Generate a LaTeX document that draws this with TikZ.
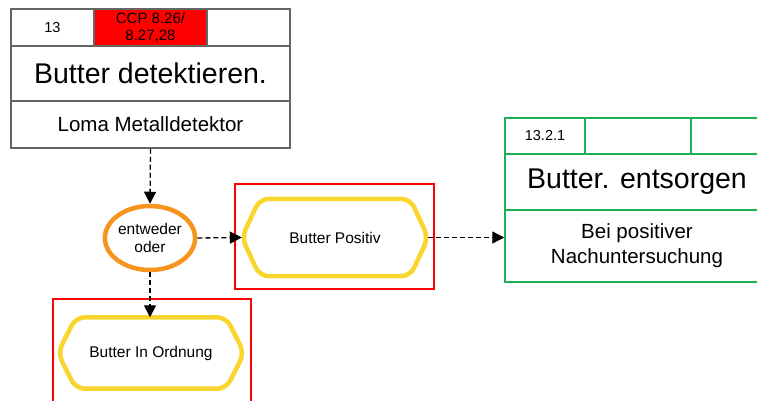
\documentclass[tikz,border=0pt]{standalone}
\usepackage{fontspec}
\setmainfont{Liberation Sans}
\usetikzlibrary{arrows.meta,shapes.geometric}
\definecolor{boxgray}{HTML}{666666}
\definecolor{ccpred}{HTML}{FF0000}
\definecolor{orgorange}{HTML}{F7941D}
\definecolor{hexyellow}{HTML}{F9D52E}
\definecolor{grn}{HTML}{1DB055}
\begin{document}
\begin{tikzpicture}[x=1pt,y=-1pt,
  cell/.style={draw=boxgray,line width=1.5pt,inner sep=0pt,align=center,text=black},
  gcell/.style={draw=grn,line width=1.5pt,inner sep=0pt,align=center,text=black},
  redbox/.style={draw=ccpred,line width=1.5pt,inner sep=0pt},
  hexnode/.style={inner sep=0pt,align=center,minimum width=186pt,font=\fontsize{15.5}{18}\selectfont},
  hexline/.style={draw=hexyellow,line width=4.5pt,rounded corners=9pt,fill=white},
  flow/.style={dash pattern=on 5pt off 3pt,line width=1.3pt,-{Triangle[length=12pt,width=12pt]}},
  small/.style={font=\fontsize{14.5}{16.5}\selectfont},
  title/.style={font=\fontsize{28.5}{34}\selectfont},
  sub/.style={font=\fontsize{20.5}{25}\selectfont}]
\clip (0,0) rectangle (757,401);
\fill[white] (0,0) rectangle (757,401);

% top-left activity box
\node[cell,small,minimum width=83pt,minimum height=37pt] (a1) at (52.5,27.5) {13};
\node[cell,small,fill=ccpred,minimum width=113pt,minimum height=37pt,font=\fontsize{15}{16.5}\selectfont] (a2) at (150.5,27.5) {CCP 8.26/\\8.27,28};
\node[cell,minimum width=83pt,minimum height=37pt] (a3) at (248.5,27.5) {};
\node[cell,title,minimum width=279pt,minimum height=55pt] (a4) at (150.5,73.5) {Butter detektieren.};
\node[cell,sub,minimum width=279pt,minimum height=47pt] (a5) at (150.5,124.5) {Loma Metalldetektor};

% green activity box
\node[gcell,small,minimum width=80pt,minimum height=36pt] (g1) at (545,136) {13.2.1};
\node[gcell,minimum width=106pt,minimum height=36pt] (g2) at (638,136) {};
\node[gcell,minimum width=78pt,minimum height=36pt] (g3) at (730,136) {};
\node[gcell,title,minimum width=264pt,minimum height=56pt] (g4) at (637,182) {Butter. entsorgen};
\node[gcell,sub,minimum width=264pt,minimum height=72pt] (g5) at (637,246) {Bei positiver\\Nachuntersuchung};

% red frames
\node[redbox,minimum width=199pt,minimum height=105pt] (rb1) at (334.5,236.5) {};
\node[redbox,minimum width=198pt,minimum height=122pt] (rb2) at (152,360) {};

% operator
\node[ellipse,draw=orgorange,line width=4.5pt,fill=white,minimum width=88pt,minimum height=64pt,inner sep=0pt,align=center,font=\fontsize{15.5}{18}\selectfont] (ell) at (150,238) {entweder\\oder};

% events
\node[hexnode,minimum height=77pt] (hp) at (335,237.5) {};
\draw[hexline] (hp.west) -- ([xshift=18pt]hp.north west) -- ([xshift=-18pt]hp.north east) -- (hp.east) -- ([xshift=-18pt]hp.south east) -- ([xshift=18pt]hp.south west) -- cycle;
\node[hexnode,minimum height=77pt] at (hp.center) {Butter Positiv};

\node[hexnode,minimum height=71pt] (hn) at (151,353) {};
\draw[hexline] (hn.west) -- ([xshift=18pt]hn.north west) -- ([xshift=-18pt]hn.north east) -- (hn.east) -- ([xshift=-18pt]hn.south east) -- ([xshift=18pt]hn.south west) -- cycle;
\node[hexnode,minimum height=71pt] at (hn.center) {Butter In Ordnung};

% connectors
\draw[flow] (a5.south) -- (ell.north);
\draw[flow] (ell.east) -- (hp.west);
\draw[flow] (hp.east) -- (hp.east -| g5.west);
\draw[flow] (ell.south) -- (ell.south |- hn.north);
\end{tikzpicture}
\end{document}
